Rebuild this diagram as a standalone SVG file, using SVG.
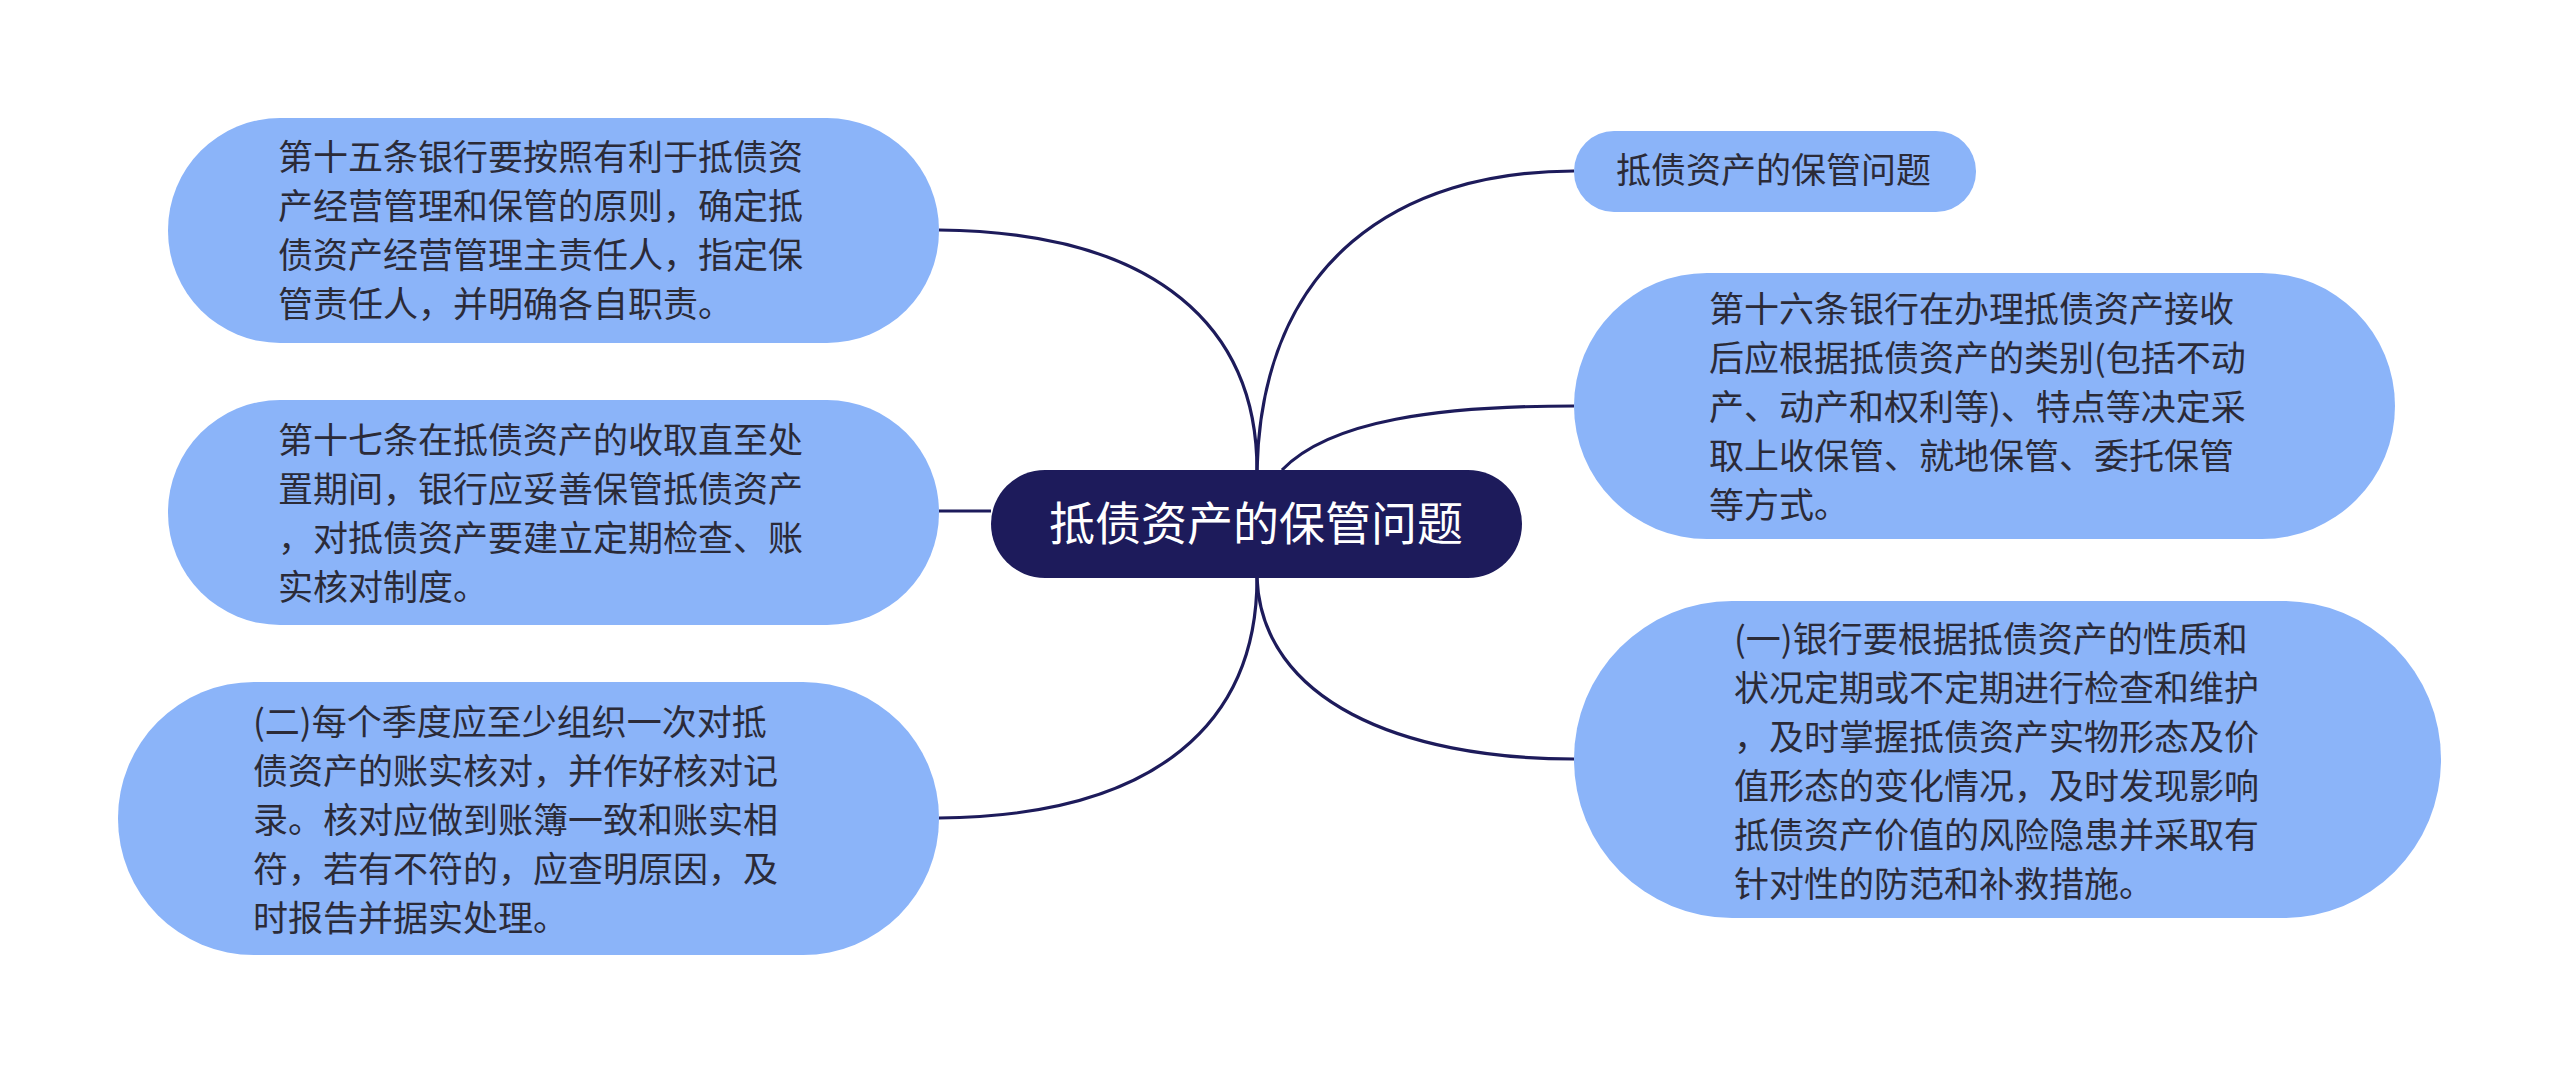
<svg xmlns="http://www.w3.org/2000/svg" width="2560" height="1072" viewBox="0 0 2560 1072">
<style>
.node{fill:#8bb4f9;}
.t{font-family:"Noto Sans CJK SC","Noto Sans",sans-serif;font-size:35px;fill:#2b2b38;}
.root{fill:#1d1b5b;}
.rt{font-family:"Noto Sans CJK SC","Noto Sans",sans-serif;font-size:46px;fill:#ffffff;}
.c{fill:none;stroke:#1d1b5b;stroke-width:3.2;}
</style>
<rect width="2560" height="1072" fill="#ffffff"/>
<g id="connectors">
<path class="c" d="M939,230 C1160,232 1257,330 1257,470"/>
<path class="c" d="M939,511 L991,511"/>
<path class="c" d="M939,818 C1160,816 1257,720 1257,578"/>
<path class="c" d="M1257,470 C1262,260 1400,171 1574,171"/>
<path class="c" d="M1282,470 C1330,420 1440,406 1574,406"/>
<path class="c" d="M1257,578 C1262,700 1400,759 1574,759"/>
</g>
<g id="root">
<rect class="root" x="991" y="470" width="531" height="108" rx="54"/>
<text class="rt" x="1256" y="540" text-anchor="middle">抵债资产的保管问题</text>
</g>
<g id="left1">
<rect class="node" x="168" y="118" width="771" height="225" rx="112"/>
<text class="t" x="278"><tspan x="278" y="170">第十五条银行要按照有利于抵债资</tspan><tspan x="278" y="219">产经营管理和保管的原则，确定抵</tspan><tspan x="278" y="268">债资产经营管理主责任人，指定保</tspan><tspan x="278" y="317">管责任人，并明确各自职责。</tspan></text>
</g>
<g id="left2">
<rect class="node" x="168" y="400" width="771" height="225" rx="112"/>
<text class="t" x="278"><tspan x="278" y="453">第十七条在抵债资产的收取直至处</tspan><tspan x="278" y="502">置期间，银行应妥善保管抵债资产</tspan><tspan x="278" y="551">，对抵债资产要建立定期检查、账</tspan><tspan x="278" y="600">实核对制度。</tspan></text>
</g>
<g id="left3">
<rect class="node" x="118" y="682" width="821" height="273" rx="136"/>
<text class="t" x="253"><tspan x="253" y="735">(二)每个季度应至少组织一次对抵</tspan><tspan x="253" y="784">债资产的账实核对，并作好核对记</tspan><tspan x="253" y="833">录。核对应做到账簿一致和账实相</tspan><tspan x="253" y="882">符，若有不符的，应查明原因，及</tspan><tspan x="253" y="931">时报告并据实处理。</tspan></text>
</g>
<g id="right1">
<rect class="node" x="1574" y="131" width="402" height="81" rx="40"/>
<text class="t" x="1616" y="183">抵债资产的保管问题</text>
</g>
<g id="right2">
<rect class="node" x="1574" y="273" width="821" height="266" rx="133"/>
<text class="t" x="1709"><tspan x="1709" y="322">第十六条银行在办理抵债资产接收</tspan><tspan x="1709" y="371">后应根据抵债资产的类别(包括不动</tspan><tspan x="1709" y="420">产、动产和权利等)、特点等决定采</tspan><tspan x="1709" y="469">取上收保管、就地保管、委托保管</tspan><tspan x="1709" y="518">等方式。</tspan></text>
</g>
<g id="right3">
<rect class="node" x="1574" y="601" width="867" height="317" rx="158"/>
<text class="t" x="1734"><tspan x="1734" y="652">(一)银行要根据抵债资产的性质和</tspan><tspan x="1734" y="701">状况定期或不定期进行检查和维护</tspan><tspan x="1734" y="750">，及时掌握抵债资产实物形态及价</tspan><tspan x="1734" y="799">值形态的变化情况，及时发现影响</tspan><tspan x="1734" y="848">抵债资产价值的风险隐患并采取有</tspan><tspan x="1734" y="897">针对性的防范和补救措施。</tspan></text>
</g>
</svg>
